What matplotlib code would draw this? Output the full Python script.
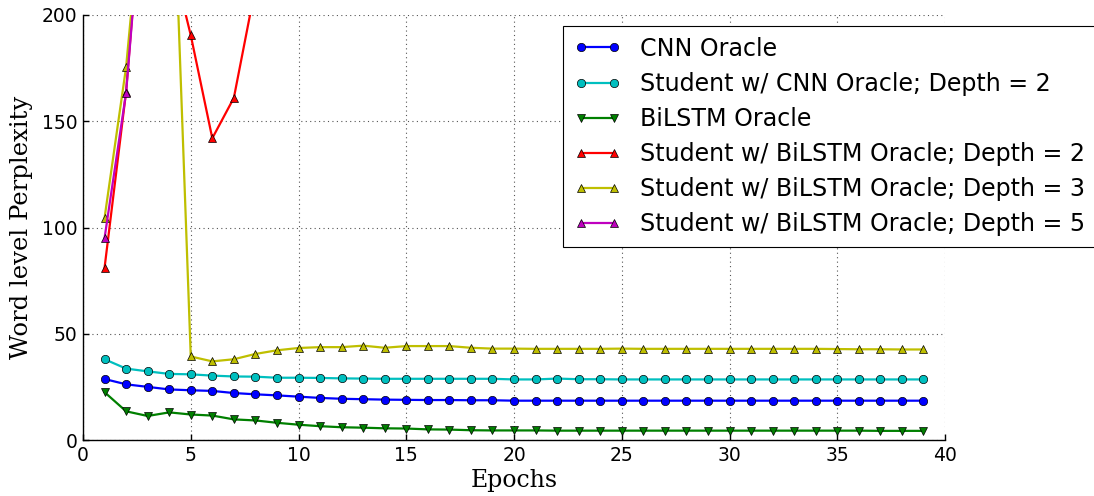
import matplotlib
matplotlib.use("Agg")
import matplotlib.pyplot as plt

# Perplexity per training epoch
epochs_full = list(range(1, 40))

cnn_oracle = [28.7, 26.2, 25.0, 23.8, 23.4, 23.1, 22.1, 21.5, 21.0, 20.4,
              19.8, 19.4, 19.2, 19.0, 18.9, 18.8, 18.8, 18.7, 18.7, 18.5,
              18.5, 18.5, 18.5, 18.5, 18.5, 18.5, 18.5, 18.5, 18.5, 18.5,
              18.5, 18.5, 18.5, 18.5, 18.5, 18.5, 18.5, 18.5, 18.5]
student_cnn_d2 = [38.0, 33.6, 32.3, 31.1, 30.9, 30.3, 29.9, 29.8, 29.3, 29.3,
                  29.2, 29.0, 28.9, 28.8, 28.8, 28.8, 28.8, 28.8, 28.8, 28.5,
                  28.5, 28.9, 28.6, 28.6, 28.5, 28.5, 28.5, 28.5, 28.5, 28.5,
                  28.5, 28.5, 28.5, 28.5, 28.5, 28.5, 28.5, 28.5, 28.5]
bilstm_oracle = [22.5, 13.5, 11.3, 13.0, 12.0, 11.5, 9.7, 9.2, 8.1, 7.2,
                 6.5, 6.0, 5.8, 5.5, 5.4, 5.0, 4.9, 4.6, 4.5, 4.5,
                 4.5, 4.4, 4.4, 4.4, 4.4, 4.4, 4.4, 4.4, 4.4, 4.4,
                 4.4, 4.4, 4.4, 4.4, 4.4, 4.4, 4.3, 4.3, 4.3]
student_bilstm_d3 = [104.5, 175.5, 284.0, 320.0, 39.3, 37.0, 38.0, 40.5, 42.2, 43.3,
                     43.7, 43.7, 44.4, 43.4, 44.2, 44.2, 44.2, 43.4, 43.0, 43.0,
                     42.9, 42.9, 42.9, 42.9, 43.0, 42.9, 42.9, 42.9, 42.9, 42.9,
                     42.9, 42.9, 42.9, 42.9, 42.8, 42.7, 42.7, 42.6, 42.6]

epochs_d2 = list(range(1, 10))
student_bilstm_d2 = [81.0, 164.0, 290.0, 232.0, 190.5, 142.0, 161.0, 213.0, 250.0]

epochs_d5 = list(range(1, 5))
student_bilstm_d5 = [95.0, 163.5, 287.0, 330.0]

labels = [
    "CNN Oracle",
    "Student w/ CNN Oracle; Depth = 2",
    "BiLSTM Oracle",
    "Student w/ BiLSTM Oracle; Depth = 2",
    "Student w/ BiLSTM Oracle; Depth = 3",
    "Student w/ BiLSTM Oracle; Depth = 5",
]

series = [
    (epochs_full, cnn_oracle, "#0000ff", "o"),
    (epochs_full, student_cnn_d2, "#00bfbf", "o"),
    (epochs_full, bilstm_oracle, "#008000", "v"),
    (epochs_d2, student_bilstm_d2, "#ff0000", "^"),
    (epochs_full, student_bilstm_d3, "#bfbf00", "^"),
    (epochs_d5, student_bilstm_d5, "#bf00bf", "^"),
]

fig = plt.figure(figsize=(10.94, 4.96), dpi=100)
ax = fig.add_axes([83 / 1094, 1 - 440 / 496, (945 - 83) / 1094, (440 - 15) / 496])

for (x, y, color, marker), label in zip(series, labels):
    ax.plot(x, y, color=color, marker=marker, markersize=6,
            markeredgecolor="black", markeredgewidth=0.5,
            linewidth=1.6, label=label)

ax.set_xlim(0, 40)
ax.set_ylim(0, 200)
ax.set_xticks(range(0, 41, 5))
ax.set_yticks(range(0, 201, 50))
ax.grid(True, color="#555555", linestyle=(0, (1, 3)), linewidth=0.8)

for side in ("top", "right"):
    ax.spines[side].set_visible(False)
for side in ("left", "bottom"):
    ax.spines[side].set_linewidth(1.0)

ax.tick_params(axis="both", direction="in", length=4, width=1,
               labelsize=13.5, pad=4, top=False, right=False)

ax.set_xlabel("Epochs", family="DejaVu Serif", fontsize=17, labelpad=3)
ax.set_ylabel("Word level Perplexity", family="DejaVu Serif", fontsize=17.5,
              labelpad=6)

leg = ax.legend(loc="upper left", bbox_to_anchor=(563 / 1094, 1 - 26 / 496),
                bbox_transform=fig.transFigure, borderaxespad=0,
                numpoints=2, fontsize=17.1, fancybox=False, framealpha=1,
                edgecolor="black", handlelength=2.0, labelspacing=0.47,
                borderpad=0.45)
leg.get_frame().set_linewidth(0.8)

fig.savefig("out.png", dpi=100)
